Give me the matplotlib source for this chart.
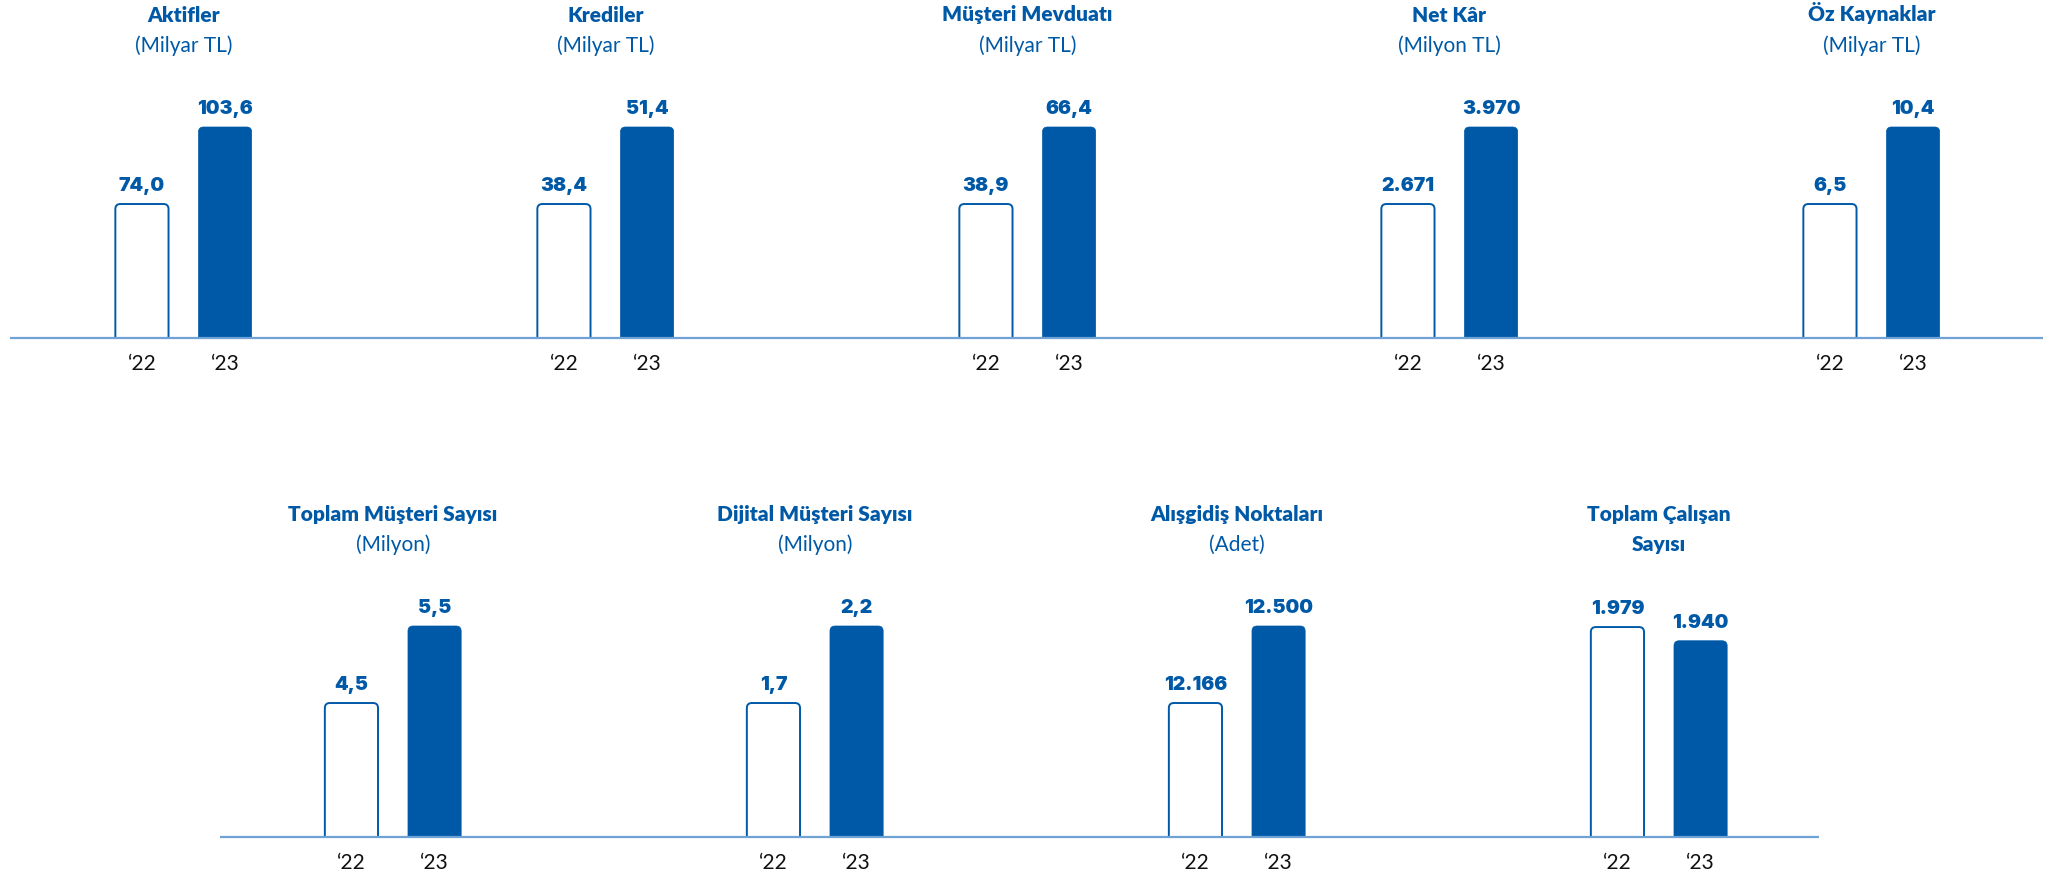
import matplotlib
matplotlib.use("Agg")
import matplotlib.pyplot as plt
from matplotlib.patches import FancyBboxPatch

# ---------------- data ----------------
years = ["\u201822", "\u201823"]

top_titles = ["Aktifler", "Krediler", "Müşteri Mevduatı", "Net Kâr", "Öz Kaynaklar"]
top_units = ["(Milyar TL)", "(Milyar TL)", "(Milyar TL)", "(Milyon TL)", "(Milyar TL)"]
top_2022 = [74.0, 38.4, 38.9, 2671, 6.5]
top_2023 = [103.6, 51.4, 66.4, 3970, 10.4]
top_decimals = [1, 1, 1, 0, 1]
# drawn bar heights (schematic, not to scale)
top_drawn_2022 = [0.635, 0.635, 0.635, 0.635, 0.635]
top_drawn_2023 = [1.0, 1.0, 1.0, 1.0, 1.0]

bot_titles = ["Toplam Müşteri Sayısı", "Dijital Müşteri Sayısı", "Alışgidiş Noktaları", "Toplam Çalışan\nSayısı"]
bot_units = ["(Milyon)", "(Milyon)", "(Adet)", ""]
bot_2022 = [4.5, 1.7, 12166, 1979]
bot_2023 = [5.5, 2.2, 12500, 1940]
bot_decimals = [1, 1, 0, 0]
bot_drawn_2022 = [0.635, 0.635, 0.635, 0.995]
bot_drawn_2023 = [1.0, 1.0, 1.0, 0.93]

# ---------------- style ----------------
BLUE = "#0059A7"
BASE = "#6FA3D6"
FONT = ["Lato", "DejaVu Sans"]
VFONT = ["Inter", "DejaVu Sans"]
plt.rcParams["font.family"] = FONT

W, H = 2064, 874
fig = plt.figure(figsize=(W / 100, H / 100), dpi=100)

def fmt(v, d):
    if d == 0:
        return f"{int(round(v)):,}".replace(",", ".")
    return f"{v:.{d}f}".replace(".", ",")

UNIT_PX = 211.0   # pixels per drawn-height unit
PANEL_PX = 422.0  # pixels per panel
BAR_OFF = 0.0985
BAR_W = 0.126
RADIUS_PX = 5.0

def make_row(baseline_px, top_px, first_center_px, titles, units, v22, v23, dec, d22, d23, line_end):
    n = len(titles)
    bottom = 1 - baseline_px / H
    height = (baseline_px - top_px) / H
    ax = fig.add_axes([0, bottom, 1, height])
    x0 = -first_center_px / PANEL_PX
    x1 = (W - first_center_px) / PANEL_PX
    ax.set_xlim(x0, x1)
    ax.set_ylim(0, (baseline_px - top_px) / UNIT_PX)
    ax.axis("off")
    r = RADIUS_PX / PANEL_PX
    aspect = PANEL_PX / UNIT_PX
    ext = 0.05
    for i in range(n):
        for j, (vals, drawn) in enumerate(((v22, d22), (v23, d23))):
            xc = i + (-BAR_OFF if j == 0 else BAR_OFF)
            h = drawn[i]
            if j == 0:
                p = FancyBboxPatch((xc - BAR_W / 2, -ext), BAR_W, h + ext,
                                   boxstyle=f"round,pad=0,rounding_size={r}",
                                   mutation_aspect=aspect, facecolor="white",
                                   edgecolor=BLUE, linewidth=1.4)
            else:
                p = FancyBboxPatch((xc - BAR_W / 2, -ext), BAR_W, h + ext,
                                   boxstyle=f"round,pad=0,rounding_size={r}",
                                   mutation_aspect=aspect, facecolor=BLUE,
                                   edgecolor=BLUE, linewidth=0.5)
            ax.add_patch(p)
            ax.annotate(fmt(vals[i], dec[i]), (xc, h), xytext=(0, 9.5),
                        textcoords="offset points", ha="center", va="baseline",
                        fontsize=14, fontweight="black", color=BLUE, family=VFONT)
            ax.text(xc, -0.15, years[j], ha="center", va="baseline",
                    fontsize=15, color="#111111", clip_on=False)
        lines = titles[i].split("\n")
        ax.text(i, 1.50, lines[0], ha="center", va="baseline", fontsize=15,
                fontweight="heavy", color=BLUE, clip_on=False)
        if len(lines) > 1:
            ax.text(i, 1.356, lines[1], ha="center", va="baseline", fontsize=15,
                    fontweight="heavy", color=BLUE, clip_on=False)
        if units[i]:
            ax.text(i, 1.356, units[i], ha="center", va="baseline", fontsize=15,
                    color=BLUE, clip_on=False)
    ax.plot([-0.41, n - 1 + line_end], [0, 0], color=BASE, linewidth=1.6,
            clip_on=False, solid_capstyle="butt", zorder=5)
    return ax

make_row(338, 0, 183.5, top_titles, top_units, top_2022, top_2023, top_decimals,
         top_drawn_2022, top_drawn_2023, 0.406)
make_row(837, 480, 393.0, bot_titles, bot_units, bot_2022, bot_2023, bot_decimals,
         bot_drawn_2022, bot_drawn_2023, 0.38)

fig.savefig("out.png", dpi=100, facecolor="white")
